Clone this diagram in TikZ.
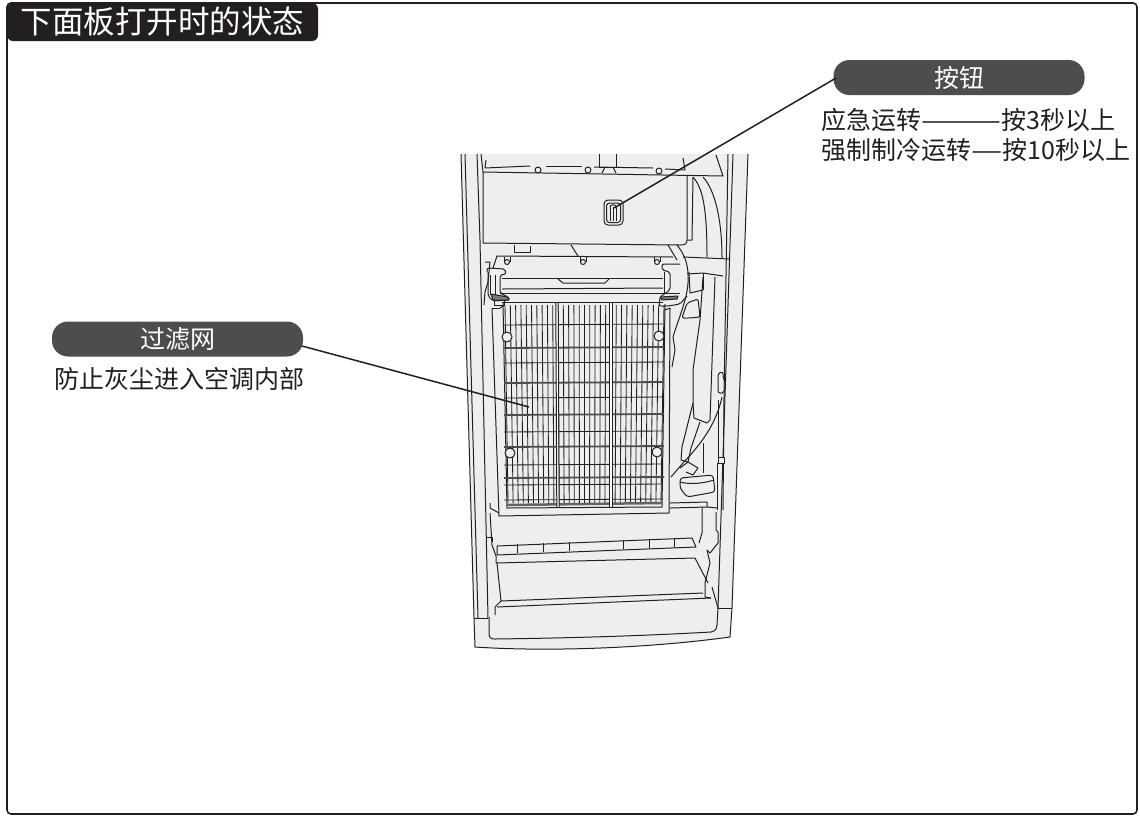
\documentclass[tikz,border=0pt]{standalone}
\usepackage{fontspec}
\setmainfont{Noto Sans CJK SC}
\usetikzlibrary{calc}
\definecolor{inkk}{HTML}{231F20}
\definecolor{pill}{HTML}{4D4D4F}
\definecolor{body}{HTML}{EEEEEE}
\tikzset{
	part/.style={draw=inkk,line width=1pt,line join=round},
	thin part/.style={draw=inkk,line width=0.85pt},
	heavy part/.style={draw=inkk!80,line width=1.8pt},
	pill box/.style={fill=pill,text=white,rounded corners=16pt,minimum width=251pt,minimum height=35pt,inner sep=0pt,font=\fontsize{25}{25}\selectfont},
	note/.style={text=inkk,anchor=west,inner sep=0pt,font=\fontsize{25}{27}\selectfont},
	pointer/.style={draw=inkk,line width=1.5pt}
}
\begin{document}
\begin{tikzpicture}[x=1pt,y=-1pt]
\useasboundingbox (0,0) rectangle (1140,815);
\fill[white] (0,0) rectangle (1140,815);
\draw[inkk,line width=1.6pt,rounded corners=4pt] (7,3) rectangle (1137,814);
\node[fill=inkk,text=white,rounded corners=6pt,minimum width=311pt,minimum height=38pt,inner sep=0pt,font=\fontsize{31.5}{32}\selectfont] (title) at (162.5,22) {下面板打开时的状态};

\fill[body] (461,154) -- (748,154) -- (732,608) -- (730,637) .. controls (650,648) and (550,652) .. (475,647) -- (474,618) -- cycle;

\draw[part] (461,154) -- (474,618);
\draw[part] (465,154) -- (478,618);
\draw[part] (477,154) -- (480,240) -- (488,618);
\draw[part] (481,154) -- (483,172);
\draw[part] (748,154) -- (732,608);
\draw[part] (733,154) -- (718,608);
\draw[part] (728,154) -- (724,397);
\draw[part] (474,618) -- (475,647) .. controls (550,652) and (650,648) .. (730,637) -- (732,608);
\draw[part] (474,618) -- (488,618);
\draw[part] (718,608) -- (732,608);
\draw[part] (489,617) -- (489,633) .. controls (489,638) and (491,639) .. (495,639) .. controls (570,638) and (640,636) .. (711,632) .. controls (716,631) and (717,628) .. (717,625) -- (718,608);

\draw[part] (486,160) -- (485,168) -- (530,166);
\draw[part] (546,166) -- (582,166);
\draw[part] (594,167) -- (653,168);
\draw[part] (665,169) -- (685,170) -- (683,158);
\draw[part] (483,172) -- (723,176) -- (716,155);
\draw[part] (599,154) -- (599,167) -- (616,167) -- (616,154);
\draw[part] (602,173) -- (605,167);
\draw[part] (613,167) -- (616,173);
\foreach \x/\y in {538/170,588/170,659/171} {
	\draw[part] (\x,\y) circle (3);
}
\draw[part] (483,172) -- (483,243) -- (680,245) .. controls (685,245) and (687,244) .. (687,240) -- (687,175);
\draw[part] (687,240) -- (692,240) -- (693,177);
\draw[part,rounded corners=4pt] (604,200) rectangle (623,225);
\draw[part,rounded corners=3pt] (606.5,203) rectangle (620.5,222.5);
\foreach \x in {610,613,616} {
	\draw[part] (\x,207) -- (\x,221);
}
\draw[part] (610,207) .. controls (610,204) and (616,204) .. (616,207);

\draw[part] (514,245) -- (514,252) -- (530,252) -- (530,246);
\draw[part] (571,245) -- (578,256);
\draw[part] (493,268) -- (497,256) -- (673,257);
\foreach \x in {507,583,657} {
	\draw[part] (\x,262) circle (2.5);
	\draw[part] (\x-3,257) -- (\x-3,262);
	\draw[part] (\x+3,257) -- (\x+3,262);
}
\draw[part] (502,278) -- (663,278);
\draw[part] (502,289) -- (663,288);
\draw[part] (500,293) -- (680,293);
\draw[part] (502,302) -- (663,302);
\draw[part] (558,279) -- (563,283) -- (605,283) -- (609,279);

\draw[part] (485,262) -- (490,262) -- (488,282) -- (485,292) -- (484,305);
\draw[part,rounded corners=2pt] (487,272) -- (487,268) -- (505,269) -- (506,274) -- (500,275) -- (500,293) -- (508,297) -- (510,300) -- (493,301) -- (488,296) -- (488,272);
\draw[part] (490,275) -- (490,294) -- (495,294) -- (495,275);
\draw[part,fill=inkk!60] (491,294) -- (508,297) -- (508,300) -- (493,300) -- cycle;
\draw[part] (494,301) -- (494,305) -- (504,305) -- (504,301);
\draw[part,rounded corners=2pt] (680,264) -- (662,264) -- (662,270) -- (670,272) -- (670,290) -- (660,297) -- (659,306) -- (668,306) -- (680,304) -- (687,296);
\draw[part] (664,272) -- (664,294);
\draw[part,fill=inkk!60] (660,297) -- (678,296) -- (677,299) -- (662,300) -- cycle;

\draw[part] (492,308) -- (499,516) -- (669,513) -- (670,308);
\draw[part] (492,308) -- (500,308);
\draw[part] (503,303) -- (507,508) -- (662,507) -- (665,304);
\draw[part] (500,308) -- (503,306);
\draw[part] (665,310) -- (670,308);
\foreach \n in {0,...,30} {
	\draw[thin part] ({505+5.3*\n},305) -- ({508+5.1*\n},503);
}
\foreach \y in {325,363,398,432,465,485,500} {
	\draw[thin part] (504,\y) -- (663,\y-1);
}
\foreach \y in {348,383,415,447,478} {
	\draw[heavy part] (504,\y) -- (664,\y-1);
}
\draw[line width=2.5pt,inkk!70] (507,505) -- (662,503);
\foreach \a/\b in {557/558,611/611} {
	\draw[draw=white,line width=1.6pt] (\a,303) -- (\b,507);
	\draw[part] (\a-1.2,303) -- (\b-1.2,507);
	\draw[part] (\a+1.2,303) -- (\b+1.2,507);
}
\foreach \x/\y in {507/337,659/336,510/453,657/452} {
	\draw[part,fill=body] (\x,\y) circle (5);
}

\draw[part] (668,245) -- (677,260);
\draw[part] (677,245) .. controls (685,255) and (689,265) .. (688,283) .. controls (687,300) and (678,320) .. (673,337) -- (675,350) -- (672,367);
\draw[part] (689,272) -- (690,293) -- (703,290);
\draw[part] (683,257) -- (730,259);
\draw[part] (703,273) -- (723,276);
\draw[part] (703,273) -- (703,290);
\draw[part] (687,274) -- (703,273);
\draw[part,rounded corners=2pt] (682,318) -- (687,303) -- (698,299) -- (700,317) -- (690,318) -- cycle;
\draw[part] (693,177) .. controls (702,187) and (707,205) .. (707,257);
\draw[part] (703,177) .. controls (715,190) and (722,220) .. (722,258);
\draw[part] (703,277) -- (700,320) -- (693,370) -- (693,403) -- (682,447) -- (681,460) -- (688,462) -- (691,448) -- (700,422);
\draw[part] (693,403) -- (694,418) -- (707,423) -- (710,420) -- (715,277);
\draw[part] (722,397) .. controls (716,425) and (700,445) .. (683,463) -- (671,477);
\draw[part] (680,468) -- (688,462) -- (698,468) -- (693,475) -- (686,472);
\draw[part] (703,443) -- (703,473);
\draw[part,rounded corners=3pt] (680,478) -- (713,475) -- (715,492) -- (687,497) -- (680,488) -- cycle;
\draw[part] (680,482) .. controls (690,485) and (705,483) .. (714,480);
\draw[part,rounded corners=2pt] (718,373) -- (723,372) -- (723,378) -- (726,383) -- (724,393) -- (718,393) -- cycle;
\draw[part] (718,400) -- (718,457);
\draw[part] (724,397) -- (723,510);
\draw[part,fill=body] (718,457) rectangle (724,463);
\draw[part] (717,463) -- (717,510);

\draw[part] (490,503) -- (490,508) -- (499,513);
\draw[part] (670,503) -- (707,502) -- (707,507) -- (670,508);
\draw[part] (707,507) -- (717,508);
\draw[part] (490,513) -- (492,545) -- (496,556) -- (496,563);
\draw[part] (487,537) -- (492,537) -- (492,542);
\draw[part] (702,507) -- (702,533) -- (699,543);
\draw[part] (497,546) -- (692,538) -- (696,547) -- (497,555) -- cycle;
\draw[part] (496,563) -- (695,558) -- (708,583);
\draw[part] (497,563) -- (501,601) -- (495,607) -- (495,615);
\draw[part] (716,512) -- (716,530) -- (718,532) -- (718,543) -- (710,553) -- (707,550) -- (710,563) -- (705,583) -- (705,597) -- (711,598);
\draw[part] (712,587) -- (718,608);
\foreach \x in {517,543,569,623,649,674} {
	\draw[part] (\x,{545-(\x-497)*0.041}) -- (\x,{554-(\x-497)*0.041});
}
\draw[part] (501,601) -- (703,593);
\draw[part] (497,607) -- (711,598);

\coordinate (buttonpoint) at (614,208);
\coordinate (filterpoint) at (529,407);
\node[pill box] (buttonlabel) at (959,77.5) {按钮};
\node[pill box] (filterlabel) at (177.5,339) {过滤网};
\coordinate (buttontail) at (836,78);
\coordinate (filtertail) at (302,346);
\draw[pointer] (buttontail) -- (buttonpoint);
\draw[pointer] (filtertail) -- (filterpoint);
\node[note] (buttonfirst) at (821,120) {应急运转\scalebox{1.3}[1]{———}按3秒以上};
\node[note] (buttonsecond) at (821,150) {强制制冷运转\scalebox{1.4}[1]{—}按10秒以上};
\node[note] (filternote) at (54,379) {防止灰尘进入空调内部};
\end{tikzpicture}
\end{document}
